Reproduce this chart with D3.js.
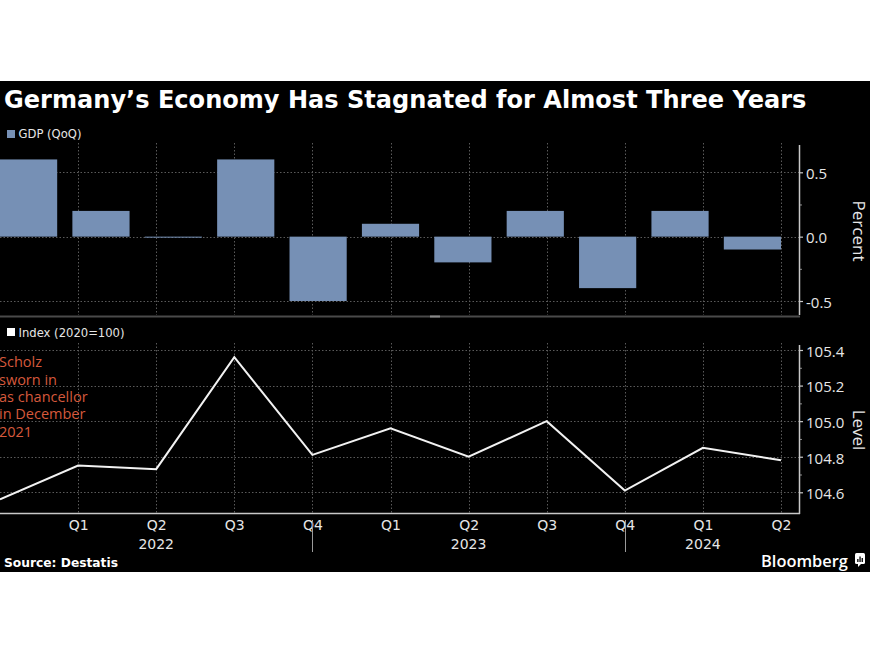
<!DOCTYPE html>
<html><head><meta charset="utf-8">
<script src="https://cdn.jsdelivr.net/npm/d3@7"></script>
<style>
html,body{margin:0;padding:0;background:#fff;}
svg{display:block;}
</style></head>
<body>
<svg id="chart" width="870" height="653"></svg>
<script>
// ---- data ----
const quarters = ["Q4 2021","Q1 2022","Q2 2022","Q3 2022","Q4 2022","Q1 2023","Q2 2023","Q3 2023","Q4 2023","Q1 2024","Q2 2024"];
const gdpQoQ = [0.6, 0.2, 0.0, 0.6, -0.5, 0.1, -0.2, 0.2, -0.4, 0.2, -0.1];
const indexLevel = [104.56, 104.75, 104.73, 105.36, 104.81, 104.96, 104.80, 105.00, 104.61, 104.85, 104.78];
const topTicks = [-0.5, 0, 0.5];
const topMinor = [-0.25, 0.25];
const botTicks = [104.6, 104.8, 105.0, 105.2, 105.4];
const botMinor = [104.7, 104.9, 105.1, 105.3];
const yearLabels = [{q:"Q2 2022", label:"2022"}, {q:"Q2 2023", label:"2023"}, {q:"Q1 2024", label:"2024"}];
const yearSeparators = ["Q4 2022", "Q4 2023"];
const titleText = "Germany’s Economy Has Stagnated for Almost Three Years";
const annotationLines = ["Scholz", "sworn in", "as chancellor", "in December", "2021"];

// ---- layout ----
const svg = d3.select("#chart");
const W = 870;
const plotRight = 799;
const barColor = "#7690b5";
const gridColor = "#5a5a5a";
const axisColor = "#c8c8c8";
const textColor = "#e6e6e6";

svg.append("rect").attr("x",0).attr("y",81).attr("width",W).attr("height",491).attr("fill","#000");

function fit(sel, w){
  const len = sel.node().getComputedTextLength();
  const fs = parseFloat(sel.attr("font-size"));
  sel.attr("font-size", fs * w / len);
}

// title
const title = svg.append("text").attr("x",4).attr("y",107.5)
  .attr("font-family","DejaVu Sans").attr("font-weight","bold").attr("font-size",22.5)
  .attr("fill","#fff").text(titleText);
fit(title, 803);

// scales
const xBand = d3.scaleBand().domain(quarters).range([0, 781]).paddingInner(0.21).paddingOuter(0);
const xPt = d3.scalePoint().domain(quarters).range([0, 781]);
const yTop = d3.scaleLinear().domain([-0.5, 0.5]).range([301, 172.3]);
const yBot = d3.scaleLinear().domain([104.6, 105.4]).range([492.3, 350]);

const topY0 = 143, topY1 = 315;
const botY0 = 343, botY1 = 513;

// gridlines
function grid(y0, y1, yScale, ticks){
  const g = svg.append("g").attr("stroke", gridColor).attr("stroke-width",1).attr("stroke-dasharray","1.5,2");
  g.selectAll(".h").data(ticks).join("line")
    .attr("x1",0).attr("x2",plotRight)
    .attr("y1",d=>Math.round(yScale(d))+0.5).attr("y2",d=>Math.round(yScale(d))+0.5);
  g.selectAll(".v").data(quarters.slice(1)).join("line")
    .attr("x1",d=>Math.round(xPt(d))+0.5).attr("x2",d=>Math.round(xPt(d))+0.5)
    .attr("y1",y0).attr("y2",y1);
}
grid(topY0, topY1, yTop, topTicks);
grid(botY0, botY1, yBot, botTicks);

// bars
svg.append("g").selectAll("rect").data(quarters).join("rect")
  .attr("x", d=>xBand(d))
  .attr("width", xBand.bandwidth())
  .attr("y", (d,i)=>Math.min(yTop(gdpQoQ[i]), yTop(0)))
  .attr("height", (d,i)=>Math.max(1, Math.abs(yTop(gdpQoQ[i]) - yTop(0))))
  .attr("fill", barColor);

// line
const line = d3.line().x((d,i)=>xPt(quarters[i])).y(d=>yBot(d));
svg.append("path").datum(indexLevel).attr("d", line)
  .attr("fill","none").attr("stroke","#f2f2f2").attr("stroke-width",2).attr("stroke-linejoin","miter");

// separator
svg.append("rect").attr("x",0).attr("y",315.5).attr("width",plotRight+1).attr("height",2).attr("fill","#4a4a4a");
svg.append("rect").attr("x",430).attr("y",315.5).attr("width",10).attr("height",2).attr("fill","#8a8a8a");

// right axes
function rightAxis(scale, ticks, minors, y0, y1, fmt){
  const g = svg.append("g").attr("transform",`translate(${plotRight},0)`);
  g.call(d3.axisRight(scale).tickValues(ticks).tickSize(4).tickPadding(3).tickFormat(fmt));
  g.select(".domain").remove();
  g.selectAll(".tick line").attr("stroke",axisColor).attr("stroke-width",1.2);
  g.selectAll(".tick text").attr("fill",textColor).attr("font-family","Open Sans").attr("font-size",15).attr("dy","0.42em");
  const m = svg.append("g").attr("transform",`translate(${plotRight},0)`);
  m.call(d3.axisRight(scale).tickValues(minors).tickSize(3).tickFormat(""));
  m.select(".domain").remove();
  m.selectAll(".tick line").attr("stroke","#8a8a8a");
  svg.append("line").attr("x1",plotRight+0.5).attr("x2",plotRight+0.5).attr("y1",y0).attr("y2",y1)
    .attr("stroke",axisColor).attr("stroke-width",1.5);
}
rightAxis(yTop, topTicks, topMinor, 145, 315, d=>d.toFixed(1));
rightAxis(yBot, botTicks, botMinor, 345, 514, d=>d.toFixed(1));

// axis titles
svg.append("text").attr("transform","translate(853,231) rotate(90)").attr("text-anchor","middle")
  .attr("font-family","Open Sans").attr("font-size",17).attr("fill",textColor).text("Percent");
svg.append("text").attr("transform","translate(853,430) rotate(90)").attr("text-anchor","middle")
  .attr("font-family","Open Sans").attr("font-size",17).attr("fill",textColor).text("Level");

// bottom x axis
const xg = svg.append("g").attr("transform",`translate(0,${botY1})`);
xg.call(d3.axisBottom(xPt).tickValues(quarters.slice(1)).tickSize(0).tickPadding(0).tickFormat(d=>d.split(" ")[0]));
xg.select(".domain").remove();
xg.selectAll(".tick text").attr("fill",textColor).attr("font-family","DejaVu Sans").attr("font-size",14)
  .attr("y",16.5).attr("dy",null);
svg.append("line").attr("x1",0).attr("x2",plotRight+1).attr("y1",botY1+0.5).attr("y2",botY1+0.5)
  .attr("stroke",axisColor).attr("stroke-width",1.5);
svg.append("g").selectAll("line").data(yearSeparators).join("line")
  .attr("x1",d=>Math.round(xPt(d))+0.5).attr("x2",d=>Math.round(xPt(d))+0.5)
  .attr("y1",520).attr("y2",552).attr("stroke","#9a9a9a").attr("stroke-width",1);
svg.append("g").selectAll("text").data(yearLabels).join("text")
  .attr("x",d=>xPt(d.q)).attr("y",548.5).attr("text-anchor","middle")
  .attr("font-family","DejaVu Sans").attr("font-size",14).attr("fill",textColor).text(d=>d.label);

// legends
svg.append("rect").attr("x",7).attr("y",130).attr("width",8).attr("height",8).attr("fill",barColor);
const lg1 = svg.append("text").attr("x",18.5).attr("y",138.3).attr("font-family","DejaVu Sans")
  .attr("font-size",11.6).attr("fill",textColor).text("GDP (QoQ)");
svg.append("rect").attr("x",7).attr("y",328).attr("width",8).attr("height",8).attr("fill","#fff");
const lg2 = svg.append("text").attr("x",18.5).attr("y",336.5).attr("font-family","DejaVu Sans")
  .attr("font-size",11.6).attr("fill",textColor).text("Index (2020=100)");

// annotation
svg.append("g").selectAll("text").data(annotationLines).join("text")
  .attr("x",-1).attr("y",(d,i)=>367.3 + i*17.3)
  .attr("font-family","Open Sans").attr("font-size",14.5).attr("fill","#d5593c").text(d=>d);

// footer
const src = svg.append("text").attr("x",4).attr("y",566.5).attr("font-family","DejaVu Sans")
  .attr("font-weight","bold").attr("font-size",12.5).attr("fill","#fff").text("Source: Destatis");
fit(src, 114);
const bb = svg.append("text").attr("x",761).attr("y",566.5).attr("font-family","Open Sans")
  .attr("font-weight","600").attr("font-size",17).attr("fill","#fff").text("Bloomberg");
fit(bb, 87);
// logo icon
const ic = svg.append("g").attr("transform","translate(855,553)");
ic.append("rect").attr("width",10).attr("height",11).attr("rx",1.5).attr("fill","#fff");
ic.append("path").attr("d","M3,11 L3,14 L6,11 Z").attr("fill","#fff");
[[2.2,6,1.3,3],[4.4,3.5,1.3,5.5],[6.6,5,1.3,4]].forEach(b=>{
  ic.append("rect").attr("x",b[0]).attr("y",b[1]).attr("width",b[2]).attr("height",b[3]).attr("fill","#000");
});
</script>
</body></html>
